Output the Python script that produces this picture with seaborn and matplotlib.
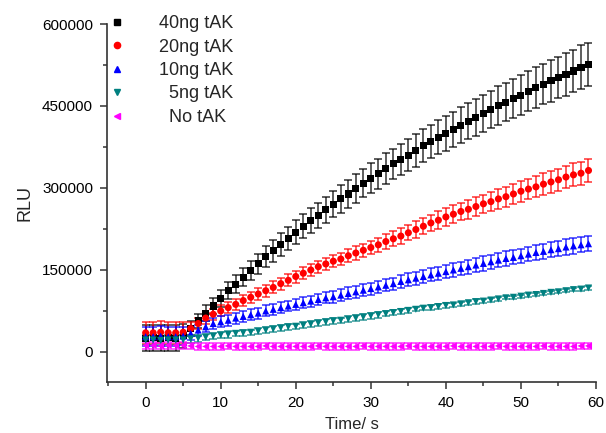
import numpy as np
import pandas as pd
import matplotlib
matplotlib.use("Agg")
import matplotlib.pyplot as plt
from matplotlib.lines import Line2D
import seaborn as sns

time_s = list(range(60))

rlu_40ng = [25, 26, 25, 26, 25, 30, 43, 57, 71, 84, 98, 112, 124, 137, 149, 161, 174, 185, 197, 208,
            219, 230, 240, 250, 260, 270, 280, 289, 299, 309, 318, 326, 336, 344, 352, 360, 369, 377, 385, 393,
            400, 407, 415, 422, 429, 436, 444, 451, 457, 464, 470, 477, 484, 490, 496, 502, 508, 514, 521, 526]
err_40ng = [24, 24, 24, 24, 24, 22, 13, 13, 14, 14, 15, 16, 16, 17, 18, 18, 19, 20, 21, 21,
            22, 22, 23, 23, 24, 24, 25, 25, 26, 26, 27, 27, 28, 28, 29, 29, 30, 30, 31, 31,
            32, 32, 33, 33, 34, 34, 34, 35, 35, 36, 36, 37, 37, 37, 38, 38, 39, 39, 40, 40]

rlu_20ng = [35, 35, 36, 35, 35, 36, 43, 52, 62, 69, 75, 81, 87, 94, 100, 106, 112, 118, 125, 131,
            138, 144, 150, 156, 161, 166, 170, 176, 181, 186, 191, 196, 202, 207, 212, 218, 224, 230, 236, 241,
            247, 252, 257, 261, 266, 271, 275, 280, 284, 289, 294, 298, 302, 307, 311, 315, 320, 324, 327, 332]
err_20ng = [20, 20, 20, 20, 20, 19, 12, 10, 10, 10, 10, 10, 10, 10, 10, 11, 11, 11, 11, 11,
            11, 11, 11, 11, 11, 11, 11, 12, 12, 12, 12, 13, 13, 14, 14, 14, 15, 15, 15, 16,
            16, 16, 16, 17, 17, 17, 18, 18, 18, 18, 19, 19, 19, 20, 20, 20, 20, 21, 21, 21]

rlu_10ng = [28, 28, 29, 28, 28, 29, 34, 40, 46, 52, 55, 58, 62, 65, 68, 71, 75, 78, 81, 84,
            87, 90, 93, 96, 99, 101, 104, 107, 110, 113, 116, 119, 122, 125, 129, 132, 135, 138, 141, 144,
            147, 150, 153, 156, 159, 162, 165, 168, 171, 173, 176, 179, 182, 184, 187, 189, 192, 194, 196, 198]
err_10ng = [18, 18, 18, 18, 18, 17, 12, 10, 10, 10, 10, 10, 10, 10, 10, 10, 10, 10, 10, 10,
            10, 10, 10, 10, 10, 11, 11, 11, 11, 11, 11, 11, 11, 11, 12, 12, 12, 12, 12, 12,
            12, 12, 12, 13, 13, 13, 13, 13, 13, 13, 13, 13, 14, 14, 14, 14, 14, 14, 14, 14]

rlu_5ng = [22, 22, 21, 22, 22, 22, 24, 25, 27, 29, 31, 32, 34, 35, 36, 38, 40, 42, 44, 46,
           47, 49, 51, 53, 55, 57, 58, 60, 62, 64, 66, 68, 70, 72, 74, 76, 78, 80, 81, 83,
           85, 86, 88, 90, 92, 93, 95, 97, 99, 100, 102, 104, 105, 107, 109, 110, 112, 114, 115, 117]
err_5ng = [9, 9, 9, 9, 9, 9, 7, 6, 6, 6, 6, 6, 5, 5, 5, 5, 5, 5, 5, 5,
           5, 5, 5, 5, 5, 5, 5, 5, 5, 5, 5, 5, 4, 4, 4, 4, 4, 4, 4, 4,
           4, 4, 4, 4, 4, 4, 4, 4, 3, 3, 3, 3, 3, 3, 3, 3, 3, 3, 3, 3]

rlu_no = [12, 12, 11, 12, 12, 12, 11, 10, 10, 10, 10, 11, 10, 10, 10, 10, 11, 10, 10, 10,
          10, 10, 10, 11, 10, 10, 10, 10, 10, 11, 10, 10, 10, 10, 10, 11, 10, 10, 10, 10,
          10, 11, 10, 10, 10, 10, 10, 11, 10, 10, 10, 10, 10, 11, 10, 10, 10, 10, 11, 11]
err_no = [6] * 60

labels = ["40ng tAK", "20ng tAK", "10ng tAK", "  5ng tAK", "  No tAK"]
colors = ["#000000", "#FF0000", "#0000FF", "#008080", "#FF00FF"]
markers = ["s", "o", "^", "v", "<"]
means = [rlu_40ng, rlu_20ng, rlu_10ng, rlu_5ng, rlu_no]
errs = [err_40ng, err_20ng, err_10ng, err_5ng, err_no]

rows = []
for lab, m, e in zip(labels, means, errs):
    for t, v, ev in zip(time_s, m, e):
        rows.append({"Time": t, "RLU": v * 1000, "err": ev * 1000, "Sample": lab})
df = pd.DataFrame(rows)

sns.set_style("ticks")
plt.rcParams["font.family"] = ["Liberation Sans", "DejaVu Sans"]

fig = plt.figure(figsize=(6.06, 4.33), dpi=100)
ax = fig.add_axes([107 / 606, 1 - 382 / 433, (596 - 107) / 606, (382 - 24) / 433])

for lab, col in zip(labels, colors):
    sub = df[df["Sample"] == lab]
    ax.errorbar(sub["Time"], sub["RLU"], yerr=sub["err"], fmt="none", ecolor=col,
                elinewidth=1.1, capsize=3.2, capthick=1.1, alpha=0.8, zorder=2)

sns.scatterplot(data=df, x="Time", y="RLU", hue="Sample", style="Sample",
                palette=dict(zip(labels, colors)), markers=dict(zip(labels, markers)),
                s=26, linewidth=0, ax=ax, legend=False, zorder=3)

ax.set_xlim(-5.15, 60)
ax.set_ylim(-55000, 600000)
ax.set_xticks([0, 10, 20, 30, 40, 50, 60])
ax.set_xticks([-5, 5, 15, 25, 35, 45, 55], minor=True)
ax.set_yticks([0, 150000, 300000, 450000, 600000])
ax.set_yticks([75000, 225000, 375000, 525000], minor=True)
ax.tick_params(axis="both", which="major", length=5, width=1.1, direction="out",
               labelsize=11, colors="#333333", labelcolor="black", pad=5)
ax.tick_params(axis="both", which="minor", length=3, width=1.1, direction="out", colors="#333333")
for side in ["top", "right"]:
    ax.spines[side].set_visible(False)
for side in ["left", "bottom"]:
    ax.spines[side].set_color("#333333")
    ax.spines[side].set_linewidth(1.2)

ax.set_xlabel("Time/ s", fontsize=12, labelpad=5)
ax.set_ylabel("RLU", fontsize=13, labelpad=6)

handles = [Line2D([], [], linestyle="none", marker=mk, color=c, markersize=4.5)
           for mk, c in zip(markers, colors)]
ax.legend(handles, labels, loc="upper left", bbox_to_anchor=(108 / 606, 1 - 15 / 433),
          bbox_transform=fig.transFigure, frameon=False, fontsize=13,
          handlelength=1.0, handletextpad=1.8, labelspacing=0.36, borderaxespad=0, borderpad=0)

fig.savefig("out.png", dpi=100)
